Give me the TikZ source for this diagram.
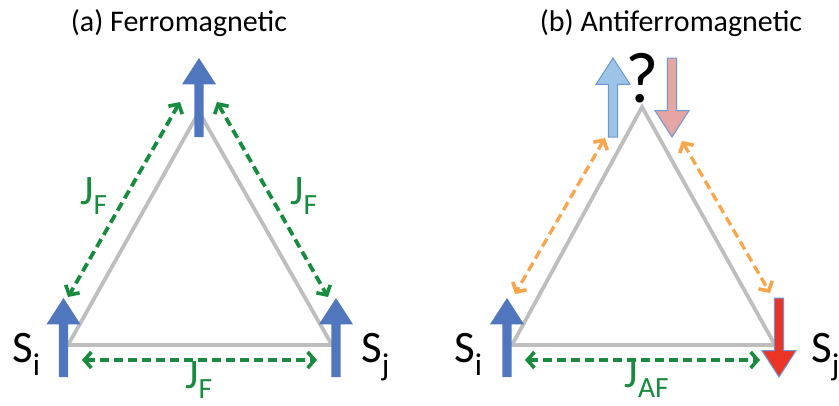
\documentclass[tikz,border=0pt]{standalone}
\usepackage{fontspec}
\setmainfont{Carlito}
\usetikzlibrary{arrows.meta}
\definecolor{spinblue}{RGB}{80,118,190}
\definecolor{lblue}{RGB}{157,195,230}
\definecolor{lblueedge}{RGB}{105,152,210}
\definecolor{pinkfill}{RGB}{230,165,165}
\definecolor{redfill}{RGB}{235,52,38}
\definecolor{jgreen}{RGB}{24,140,62}
\definecolor{jorange}{RGB}{250,165,75}
\definecolor{trigray}{RGB}{190,190,190}
\newcommand{\spinarr}[4]{% style, x, tail y, tip y
  \path[#1] ({#2-4.6},#3) -- ({#2-4.6},{#4+(#3-#4)/3}) -- ({#2-17},{#4+(#3-#4)/3})
    -- (#2,#4) -- ({#2+17},{#4+(#3-#4)/3}) -- ({#2+4.6},{#4+(#3-#4)/3}) -- ({#2+4.6},#3) -- cycle;}
\begin{document}
\begin{tikzpicture}[x=1pt,y=-1pt,
  tri/.style={draw=trigray,line width=3.8pt,line join=miter},
  coup/.style={draw=jgreen,line width=3.8pt,dash pattern=on 9pt off 5pt,
    {Straight Barb[length=7pt,width=16pt,line width=3.6pt]}-{Straight Barb[length=7pt,width=16pt,line width=3.6pt]}},
  coupo/.style={coup,draw=jorange,line width=3.3pt},
  sblue/.style={fill=spinblue},
  slblue/.style={fill=lblue,draw=lblueedge,line width=1pt},
  spink/.style={fill=pinkfill,draw=lblueedge,line width=1pt},
  sred/.style={fill=redfill,draw=lblueedge,line width=1pt},
  title/.style={font=\fontsize{30}{34}\selectfont,anchor=base},
  spinlbl/.style={font=\fontsize{45}{48}\selectfont,anchor=base west,inner sep=0pt},
  jlbl/.style={font=\fontsize{42}{46}\selectfont,text=jgreen,anchor=base,inner sep=0pt},
  qmark/.style={font=\fontsize{72}{76}\selectfont,anchor=base,inner sep=0pt}]
\useasboundingbox (0,0) rectangle (839,405);
% titles
\node[title] (ta) at (179,31) {(a) Ferromagnetic};
\node[title] (tb) at (671,31) {(b) Antiferromagnetic};
% triangle (a)
\coordinate (a1) at (68,345);
\coordinate (a2) at (332,345);
\coordinate (a3) at (199,112);
\draw[tri] (a1) -- (a2) -- (a3) -- cycle;
% triangle (b)
\coordinate (b1) at (512,345);
\coordinate (b2) at (775,345);
\coordinate (b3) at (642,107);
\draw[tri] (b1) -- (b2) -- (b3) -- cycle;
% spins (a)
\spinarr{sblue}{199}{137}{58}
\spinarr{sblue}{63.5}{377}{298}
\spinarr{sblue}{336}{377}{298}
% spins (b)
\spinarr{slblue}{613}{137}{58}
\spinarr{spink}{672}{58}{137}
\spinarr{sblue}{507}{377}{298}
\spinarr{sred}{779}{298}{377}
% couplings (a)
\coordinate (fa1) at (180,102);
\coordinate (fa2) at (68,297);
\coordinate (fb1) at (217,102);
\coordinate (fb2) at (328,297);
\coordinate (fc1) at (82,360);
\coordinate (fc2) at (317,360);
\draw[coup] (fa1) -- (fa2);
\draw[coup] (fb1) -- (fb2);
\draw[coup] (fc1) -- (fc2);
% couplings (b)
\coordinate (ga1) at (605,138);
\coordinate (ga2) at (515,294);
\coordinate (gb1) at (682,141);
\coordinate (gb2) at (770,293);
\coordinate (gc1) at (525,360);
\coordinate (gc2) at (760,360);
\draw[coupo] (ga1) -- (ga2);
\draw[coupo] (gb1) -- (gb2);
\draw[coup] (gc1) -- (gc2);
% labels
\node[spinlbl] (si1) at (12,362) {S\textsubscript{i}};
\node[spinlbl] (sj1) at (361,362) {S\textsubscript{j}};
\node[spinlbl] (si2) at (454,362) {S\textsubscript{i}};
\node[spinlbl] (sj2) at (811,362) {S\textsubscript{j}};
\node[jlbl] (j1) at (94,204) {J\textsubscript{F}};
\node[jlbl] (j2) at (304,204) {J\textsubscript{F}};
\node[jlbl] (j3) at (199,388) {J\textsubscript{F}};
\node[jlbl] (j4) at (647,387) {J\textsubscript{AF}};
\node[qmark] (q) at (642,102) {?};
\end{tikzpicture}
\end{document}
